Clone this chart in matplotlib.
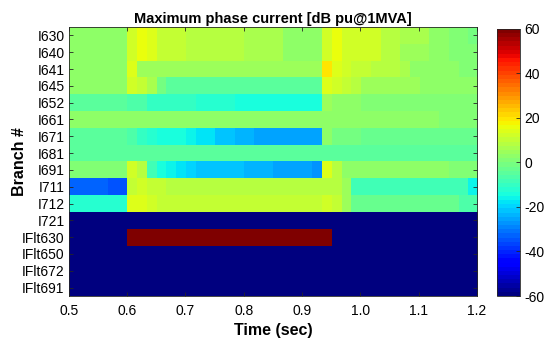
import numpy as np
import matplotlib
matplotlib.use("Agg")
import matplotlib.pyplot as plt

plt.rcParams['font.family'] = ['Liberation Sans', 'DejaVu Sans']
plt.rcParams['axes.unicode_minus'] = False

# === 数据 (dB pu@1MVA), 每行 42 个周期 (1/60 s) 从 0.5 s 到 1.2 s ===
branches = ['I630', 'I640', 'I641', 'I645', 'I652', 'I661', 'I671', 'I681',
            'I691', 'I711', 'I712', 'I721', 'IFlt630', 'IFlt650', 'IFlt672', 'IFlt691']
t_start, t_end = 0.5, 1.2
xticks = [0.5, 0.6, 0.7, 0.8, 0.9, 1.0, 1.1, 1.2]
cbar_ticks = [-60, -40, -20, 0, 20, 40, 60]

i630 = [2.5, 2.5, 2.5, 2.5, 2.5, 2.5, 12.5, 15, 14, 11, 11, 11, 9, 9, 9, 8, 8, 8, 6, 6, 6,
        6, 3.5, 3.5, 3.5, 3.5, 13, 15, 12.5, 12, 12, 11.5, 8.5, 8.5, 6, 6, 6, 3, 3, 1.5, 1.5, -0.5]
i640 = [2.5, 2.5, 2.5, 2.5, 2.5, 2.5, 12.5, 15, 14, 11, 11, 11, 8.5, 8.5, 8.5, 8.5, 8.5, 8.5, 6, 6, 6,
        6, 3.5, 3.5, 3.5, 3.5, 13, 15, 12.5, 11.5, 11.5, 11.5, 8.5, 8.5, 5.5, 5.5, 5.5, 3, 3, 1.5, 1.5, 0]
i641 = [3, 3, 3, 3, 3, 3, 13.5, 5.5, 5.5, 5, 5, 5, 5, 5, 5, 5, 5, 5, 5, 5, 5,
        5, 5, 5, 5, 5, 19.5, 14.5, 11.5, 9.5, 9.5, 8, 8, 8, 6, 2.5, 2.5, 2.5, 2.5, 2.5, 1.5, 1.5]
i645 = [2.5, 2.5, 2.5, 2.5, 2.5, 2.5, 12.5, 11, 6, -1, -5, -5, -5, -5, -5, -5, -5, -5, -5, -5, -5,
        -5, -5, -5, -5, -5, 14, 11.5, 9.5, 8, 5, 5, 5, 5, 5, 5, 2.5, 2.5, 2.5, 2.5, 2.5, 2.5]
i652 = [-5, -5, -5, -5, -5, -5, -6, -7.5, -10, -10, -10, -10, -10, -12.5, -12.5, -12.5, -12.5, -15, -15, -15, -15,
        -15, -15, -15, -15, -15, 5.5, 2.5, 2.5, 2.5, 1.5, 1.5, 1.5, 1.5, 1.5, 1.5, 1.5, 1.5, 0, 0, 0, 0]
i661 = [2.5, 2.5, 2.5, 2.5, 2.5, 2.5, 2.5, 2.5, 2.5, 2.5, 2.5, 2.5, 2.5, 2.5, 2.5, 2.5, 2.5, 2.5, 2.5, 2.5, 2.5,
        2.5, 2.5, 2.5, 2.5, 2.5, 2.5, 2.5, 2.5, 2.5, 2.5, 2.5, 2.5, 2.5, 2.5, 2.5, 2.5, 2.5, 1.5, 1.5, 1.5, 1.5]
i671 = [-5, -5, -5, -5, -5, -5, -7, -10, -12.5, -14, -14, -15, -15.5, -18.5, -18.5, -21, -21, -23.5, -23.5, -24.4, -24.4,
        -25, -25, -26, -26.2, -26.2, 2.5, -1, -1, -1, -2, -2, -2, -2, -2, -3.5, -3.5, -3.5, -3.5, -3.5, -3.5, -3.5]
i681 = [-5, -5, -5, -5, -5, -5, -5, -5, -5, -5, -5, -5, -5, -5, -5, -5, -5, -5, -5, -5, -5,
        -5, -5, -5, -5, -5, -5, -5, -5, -5, -5, -5, -5, -5, -5, -5, -5, -5, -5, -5, -5, -5]
i691 = [1.5, 1.5, 1.5, 1.5, 1.5, 1.5, 12, 9, -8, -14, -16.8, -18, -19.7, -21, -21, -21.5, -22.5, -22.5, -23, -23.2, -23.2,
        -25.5, -25.6, -25.6, -25.6, -27.4, 13.5, 8.5, 2, 2, 2, 2, 2, 2, 2, 2, 2, 2, 2, 0, 0, 0]
i711 = [-33, -33, -33, -33, -35.5, -35.5, 11, 12, 10, 10, 8.5, 8.5, 8.5, 8.5, 8.5, 8.5, 8.5, 8.5, 8.5, 8.5, 8.5,
        8.5, 8.5, 8.5, 8.5, 8.5, 8.5, 8.5, 5, -9, -9, -9, -9, -9, -9, -9, -9, -9, -9, -9, -9, -16]
i712 = [-11.5, -11.5, -11.5, -11.5, -11.5, -11.5, 14, 14, 12, 10, 10, 10, 10, 10, 10, 10, 10, 10, 10, 10, 10,
        10, 10, 10, 10, 10, 12.5, 10, 5, -3, -3, -3, -3, -3, -3, -3, -3, -3, -3, -3, -7, -7]
i721 = [-60] * 42
iflt630 = [-60] * 6 + [60] * 21 + [-60] * 15
iflt650 = [-60] * 42
iflt672 = [-60] * 42
iflt691 = [-60] * 42

current_db = np.array([i630, i640, i641, i645, i652, i661, i671, i681, i691,
                       i711, i712, i721, iflt630, iflt650, iflt672, iflt691], dtype=float)

# === 绘图 ===
fig = plt.figure(figsize=(5.46, 3.42), dpi=100)
ax = fig.add_axes([0.1258, 0.1345, 0.7478, 0.7865])

im = ax.imshow(current_db, cmap=plt.get_cmap('jet', 64), vmin=-60, vmax=60,
               aspect='auto', interpolation='nearest',
               extent=[t_start, t_end, len(branches) - 0.5, -0.5])

edge = (0.15, 0.15, 0.15)
ax.set_xticks(xticks)
ax.set_xticklabels([f"{x:.1f}" for x in xticks])
ax.set_yticks(range(len(branches)))
ax.set_yticklabels(branches)
ax.tick_params(direction='in', top=True, right=True, length=3, width=0.6,
               colors=edge, labelsize=10, labelcolor='black')
ax.tick_params(axis='x', pad=6)
ax.tick_params(axis='y', pad=3)
for s in ax.spines.values():
    s.set_color(edge)
    s.set_linewidth(0.6)

ax.set_title("Maximum phase current [dB pu@1MVA]", fontsize=10.5, fontweight='bold', pad=3)
ax.set_xlabel("Time (sec)", fontsize=11.5, fontweight='bold', labelpad=3)
ax.set_ylabel("Branch #", fontsize=11.5, fontweight='bold')
ax.yaxis.set_label_coords(-0.102, 0.5)

cax = fig.add_axes([0.910, 0.1345, 0.042, 0.781])
cb = fig.colorbar(im, cax=cax, ticks=cbar_ticks)
cb.ax.tick_params(direction='in', length=3, width=0.6, colors=edge,
                  labelsize=10, labelcolor='black')
cb.outline.set_edgecolor(edge)
cb.outline.set_linewidth(0.6)

fig.savefig("out.png", dpi=100)
